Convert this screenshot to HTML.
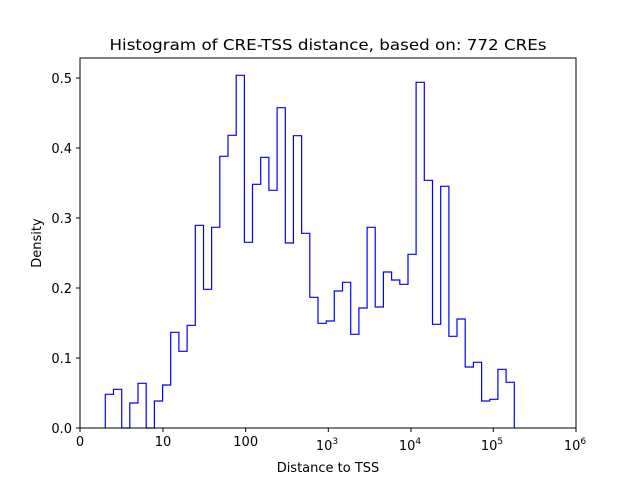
<!DOCTYPE html>
<html><head><meta charset="utf-8"><style>
html,body{margin:0;padding:0;background:#fff;}
svg{display:block;font-family:"DejaVu Sans","Liberation Sans",sans-serif;}
</style></head><body>
<svg width="640" height="480" viewBox="0 0 640 480" xmlns="http://www.w3.org/2000/svg">
<rect width="640" height="480" fill="#fff"/>
<path d="M105.3,428 V394.3 H113.5 V389.3 H121.7 V428 H129.8 V403 H138 V383.3 H146.2 V428 H154.4 V401 H162.6 V385 H170.7 V332.3 H178.9 V351.3 H187.1 V325.3 H195.3 V225.3 H203.5 V289.3 H211.6 V227.3 H219.8 V156.3 H228 V135.3 H236.2 V75.3 H244.4 V242.3 H252.5 V184.3 H260.7 V157.3 H268.9 V190.3 H277.1 V107.7 H285.3 V243 H293.4 V135.7 H301.6 V233.3 H309.8 V297.3 H318 V323.3 H326.2 V321 H334.3 V291 H342.5 V282.3 H350.7 V334.3 H358.9 V308 H367.1 V227.3 H375.2 V307 H383.4 V272 H391.6 V280 H399.8 V284.3 H408 V254.3 H416.1 V82.3 H424.3 V180.3 H432.5 V324.3 H440.7 V186.3 H448.9 V336.3 H457 V319 H465.2 V367 H473.4 V362.3 H481.6 V401 H489.8 V399.3 H497.9 V369.3 H506.1 V382.3 H514.3 V428" fill="none" stroke="#0000ff" stroke-width="1.2"/>
<rect x="80" y="58" width="496" height="370" fill="none" stroke="#000" stroke-width="1"/>
<g stroke="#000" stroke-width="1">
<line x1="80" y1="428" x2="80" y2="432"/><line x1="163" y1="428" x2="163" y2="432"/><line x1="245.7" y1="428" x2="245.7" y2="432"/><line x1="328.3" y1="428" x2="328.3" y2="432"/><line x1="411" y1="428" x2="411" y2="432"/><line x1="493.3" y1="428" x2="493.3" y2="432"/><line x1="576" y1="428" x2="576" y2="432"/>
<line x1="76" y1="428" x2="80" y2="428"/><line x1="76" y1="358" x2="80" y2="358"/><line x1="76" y1="288" x2="80" y2="288"/><line x1="76" y1="218" x2="80" y2="218"/><line x1="76" y1="148" x2="80" y2="148"/><line x1="76" y1="78" x2="80" y2="78"/>
</g>
<g font-size="13" fill="#000" text-anchor="end">
<text x="72" y="433">0.0</text><text x="72" y="363">0.1</text><text x="72" y="293">0.2</text><text x="72" y="223">0.3</text><text x="72" y="153">0.4</text><text x="72" y="83">0.5</text>
</g>
<g font-size="13" fill="#000" text-anchor="middle">
<text x="80" y="446">0</text><text x="163" y="446">10</text><text x="245.7" y="446">100</text>
<text x="327" y="450">10<tspan font-size="9" dy="-6">3</tspan></text>
<text x="410" y="450">10<tspan font-size="9" dy="-6">4</tspan></text>
<text x="492" y="450">10<tspan font-size="9" dy="-6">5</tspan></text>
<text x="575" y="450">10<tspan font-size="9" dy="-6">6</tspan></text>
<text x="328" y="472">Distance to TSS</text>
<text x="328" y="50" font-size="15.5" textLength="437" lengthAdjust="spacingAndGlyphs">Histogram of CRE-TSS distance, based on: 772 CREs</text>
</g>
<text transform="translate(41,243) rotate(-90)" font-size="13" text-anchor="middle">Density</text>
</svg>
</body></html>
